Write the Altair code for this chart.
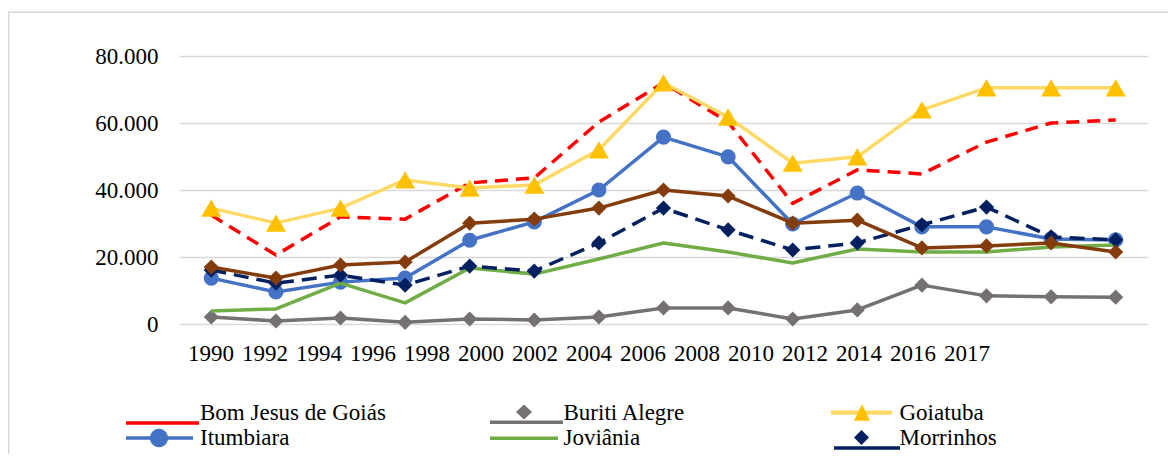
import json
import altair as alt
import pandas as pd

# ---------------- data ----------------
years = ["1990", "1992", "1994", "1996", "1998", "2000", "2002", "2004",
         "2006", "2008", "2010", "2012", "2014", "2016", "2017"]

bom_jesus = [32500, 20600, 32000, 31300, 42100, 43600, 60300, 72000, 60300, 36000, 46000, 44800, 54300, 60000, 60900]
buriti = [2100, 900, 1800, 500, 1500, 1200, 2100, 4800, 4800, 1500, 4200, 11600, 8400, 8100, 8000]
goiatuba = [34600, 30100, 34600, 43000, 40600, 41500, 52000, 72000, 61800, 48000, 49900, 63900, 70500, 70500, 70500]
itumbiara = [13700, 9550, 12500, 13700, 25000, 30500, 40000, 55800, 49900, 29850, 39100, 29000, 29000, 25400, 25100]
joviania = [3900, 4500, 12200, 6300, 16700, 14900, 19400, 24200, 21500, 18200, 22400, 21500, 21500, 23000, 23600]
morrinhos = [16100, 12200, 14600, 11600, 17300, 15800, 24200, 34600, 28100, 22100, 24200, 29600, 34900, 26000, 25100]
serie7 = [17000, 13700, 17600, 18500, 30100, 31300, 34600, 40000, 38200, 30100, 31000, 22700, 23300, 24200, 21500]

names = ["Bom Jesus de Goiás", "Buriti Alegre", "Goiatuba", "Itumbiara",
         "Joviânia", "Morrinhos", "Série 7"]
series_values = [bom_jesus, buriti, goiatuba, itumbiara, joviania, morrinhos, serie7]
y_ticks = [0, 20000, 40000, 60000, 80000]

# ---------------- styles ----------------
line_colors = ["#FF0000", "#767171", "#FFD966", "#4472C4", "#70AD47", "#002060", "#843C0C"]
marker_colors = [None, "#767171", "#FFC000", "#4472C4", None, "#002060", "#843C0C"]
marker_shapes = [None, "diamond", "triangle-up", "circle", None, "diamond", "diamond"]
marker_sizes = [0, 230, 400, 230, 0, 230, 230]
dashes = [[13, 8], None, None, None, None, [15, 8], None]

FONT = "Liberation Serif, Times New Roman, DejaVu Serif, serif"
FS = 23
W, H = 969, 268

rows = []
for n, vals in zip(names, series_values):
    for yv, v in zip(years, vals):
        rows.append({"series": n, "year": yv, "value": v})
df = pd.DataFrame(rows)

x_enc = alt.X("year:N", sort=years, scale=alt.Scale(type="point", padding=0.5), axis=None)
y_enc = alt.Y(
    "value:Q",
    scale=alt.Scale(domain=[0, 80000], nice=False),
    axis=alt.Axis(values=y_ticks, labelExpr="replace(format(datum.value, ','), ',', '.')",
                  grid=True, gridColor="#d9d9d9", gridWidth=1.3, domain=False, ticks=False,
                  labelPadding=21, labelFont=FONT, labelFontSize=FS, labelColor="#000000",
                  title=None),
)

series_layers = []
for i, n in enumerate(names):
    base = alt.Chart(df).transform_filter(alt.datum.series == n)
    lkw = dict(color=line_colors[i], strokeWidth=3.5, strokeJoin="round")
    if dashes[i]:
        lkw["strokeDash"] = dashes[i]
    series_layers.append(base.mark_line(**lkw).encode(x=x_enc, y=y_enc))
    if marker_shapes[i]:
        series_layers.append(
            base.mark_point(filled=True, opacity=1, shape=marker_shapes[i], size=marker_sizes[i],
                            color=marker_colors[i], strokeWidth=0).encode(x=x_enc, y=y_enc)
        )
series = alt.layer(*series_layers)

# x tick labels (Excel draws them at a narrower pitch than the points)
lab_df = pd.DataFrame({"idx": list(range(len(years))), "label": years})
pitch = 54.0
d0 = -31.5 / pitch
d1 = d0 + W / pitch
label_layer = alt.Chart(lab_df).mark_point(opacity=0).encode(
    x=alt.X("idx:Q", scale=alt.Scale(domain=[d0, d1], nice=False, zero=False),
            axis=alt.Axis(orient="bottom", values=list(range(len(years))),
                          labelExpr=json.dumps(years) + "[datum.value]",
                          labelFont=FONT, labelFontSize=FS, labelColor="#000000",
                          labelBaseline="alphabetic", labelPadding=36, labelAngle=0,
                          labelOverlap=False, labelFlush=False,
                          domain=False, ticks=False, grid=False, title=None)),
    y=alt.value(0),
)

# ---------------- legend (native legends with custom symbols) ----------------
U = 11.5  # px per symbol unit (symbolSize = (2U)^2)


def rect(x0, x1, y0, y1):
    a, b, c, d = x0 / U, x1 / U, y0 / U, y1 / U
    return f"M{a:.3f},{c:.3f}L{b:.3f},{c:.3f}L{b:.3f},{d:.3f}L{a:.3f},{d:.3f}Z"


def diamond(cx, cy, hw, hh):
    cx, cy, hw, hh = cx / U, cy / U, hw / U, hh / U
    return (f"M{cx-hw:.3f},{cy:.3f}L{cx:.3f},{cy-hh:.3f}L{cx+hw:.3f},{cy:.3f}"
            f"L{cx:.3f},{cy+hh:.3f}Z")


def circle(cx, cy, r):
    cx, cy, r = cx / U, cy / U, r / U
    return (f"M{cx-r:.3f},{cy:.3f}A{r:.3f},{r:.3f} 0 1,0 {cx+r:.3f},{cy:.3f}"
            f"A{r:.3f},{r:.3f} 0 1,0 {cx-r:.3f},{cy:.3f}Z")


def tri(ax, ay, bx0, bx1, by):
    return (f"M{ax/U:.3f},{ay/U:.3f}L{bx0/U:.3f},{by/U:.3f}L{bx1/U:.3f},{by/U:.3f}Z")


EMPTY = "M0,0"
LAB_GAP = 60  # label x - symbol center x (px)
label_x = [200, 563.5, 899.5]  # page x of legend labels per column
cxs = [lx - LAB_GAP for lx in label_x]

# geometry in px relative to (symbol center x, row middle y)
legend_cols = [
    {"names": ["Bom Jesus de Goiás", "Itumbiara"],
     "line_colors": ["#FF0000", "#4472C4"],
     "lines": [rect(126 - cxs[0], 199 - cxs[0], 8.2, 11.8), rect(126 - cxs[0], 193 - cxs[0], -1.8, 1.8)],
     "marker_colors": ["#FF0000", "#4472C4"],
     "markers": [EMPTY, circle(159 - cxs[0], 0, 9)]},
    {"names": ["Buriti Alegre", "Joviânia"],
     "line_colors": ["#767171", "#70AD47"],
     "lines": [rect(490 - cxs[1], 563 - cxs[1], 7.5, 11), rect(490 - cxs[1], 558 - cxs[1], -1.6, 2)],
     "marker_colors": ["#767171", "#70AD47"],
     "markers": [diamond(524 - cxs[1], -1, 8, 7.5), EMPTY]},
    {"names": ["Goiatuba", "Morrinhos"],
     "line_colors": ["#FFD966", "#002060"],
     "lines": [rect(831 - cxs[2], 892 - cxs[2], -2.5, 1.8), rect(834 - cxs[2], 900 - cxs[2], 8.2, 11.8)],
     "marker_colors": ["#FFC000", "#002060"],
     "markers": [tri(862 - cxs[2], -8.7, 854 - cxs[2], 870 - cxs[2], 7.7), diamond(861.5 - cxs[2], -0.5, 7.5, 7.5)]},
]

PLOT_LEFT, PLOT_TOP = 179, 56
ROW1_MID = 413
legend_layers = []
for k, col in enumerate(legend_cols):
    for part in ("lines", "markers"):
        ldf = pd.DataFrame({"series": col["names"]})
        colors = col["line_colors"] if part == "lines" else col["marker_colors"]
        leg = alt.Legend(
            orient="none", legendX=cxs[k] - U - PLOT_LEFT, legendY=ROW1_MID - U - PLOT_TOP,
            direction="vertical", title=None, padding=0, offset=0,
            symbolSize=(2 * U) ** 2, symbolStrokeWidth=0, symbolOpacity=1,
            labelFont=FONT, labelFontSize=FS, labelColor="#000000",
            labelOpacity=1 if part == "lines" else 0,
            labelOffset=LAB_GAP - U, labelLimit=500, rowPadding=1,
        )
        legend_layers.append(
            alt.Chart(ldf).transform_filter("false").mark_point(filled=True, opacity=1).encode(
                fill=alt.Fill("series:N", sort=col["names"],
                              scale=alt.Scale(domain=col["names"], range=colors), legend=leg),
                shape=alt.Shape("series:N", sort=col["names"],
                                scale=alt.Scale(domain=col["names"], range=col[part]), legend=leg),
            )
        )

# ---------------- chart border (top + left edges) ----------------
one = pd.DataFrame({"a": [0]})
border_top = alt.Chart(one).mark_rule(color="#d9d9d9", strokeWidth=1.5).encode(
    x=alt.value(-171), x2=alt.value(W + 20), y=alt.value(-43.7))
border_left = alt.Chart(one).mark_rule(color="#d9d9d9", strokeWidth=1.5).encode(
    x=alt.value(-170.3), y=alt.value(-44.4), y2=alt.value(H + 140))

chart = alt.layer(border_top, border_left, series, label_layer, *legend_layers).resolve_scale(
    x="independent", fill="independent", shape="independent"
).resolve_legend(fill="independent", shape="independent").properties(
    width=W, height=H,
    autosize=alt.AutoSizeParams(type="none"),
    padding={"left": 171, "top": 48, "right": 20, "bottom": 130},
    background="#ffffff",
).configure_view(stroke=None)

chart.save("out.html", embed_options={"renderer": "svg", "actions": False})
